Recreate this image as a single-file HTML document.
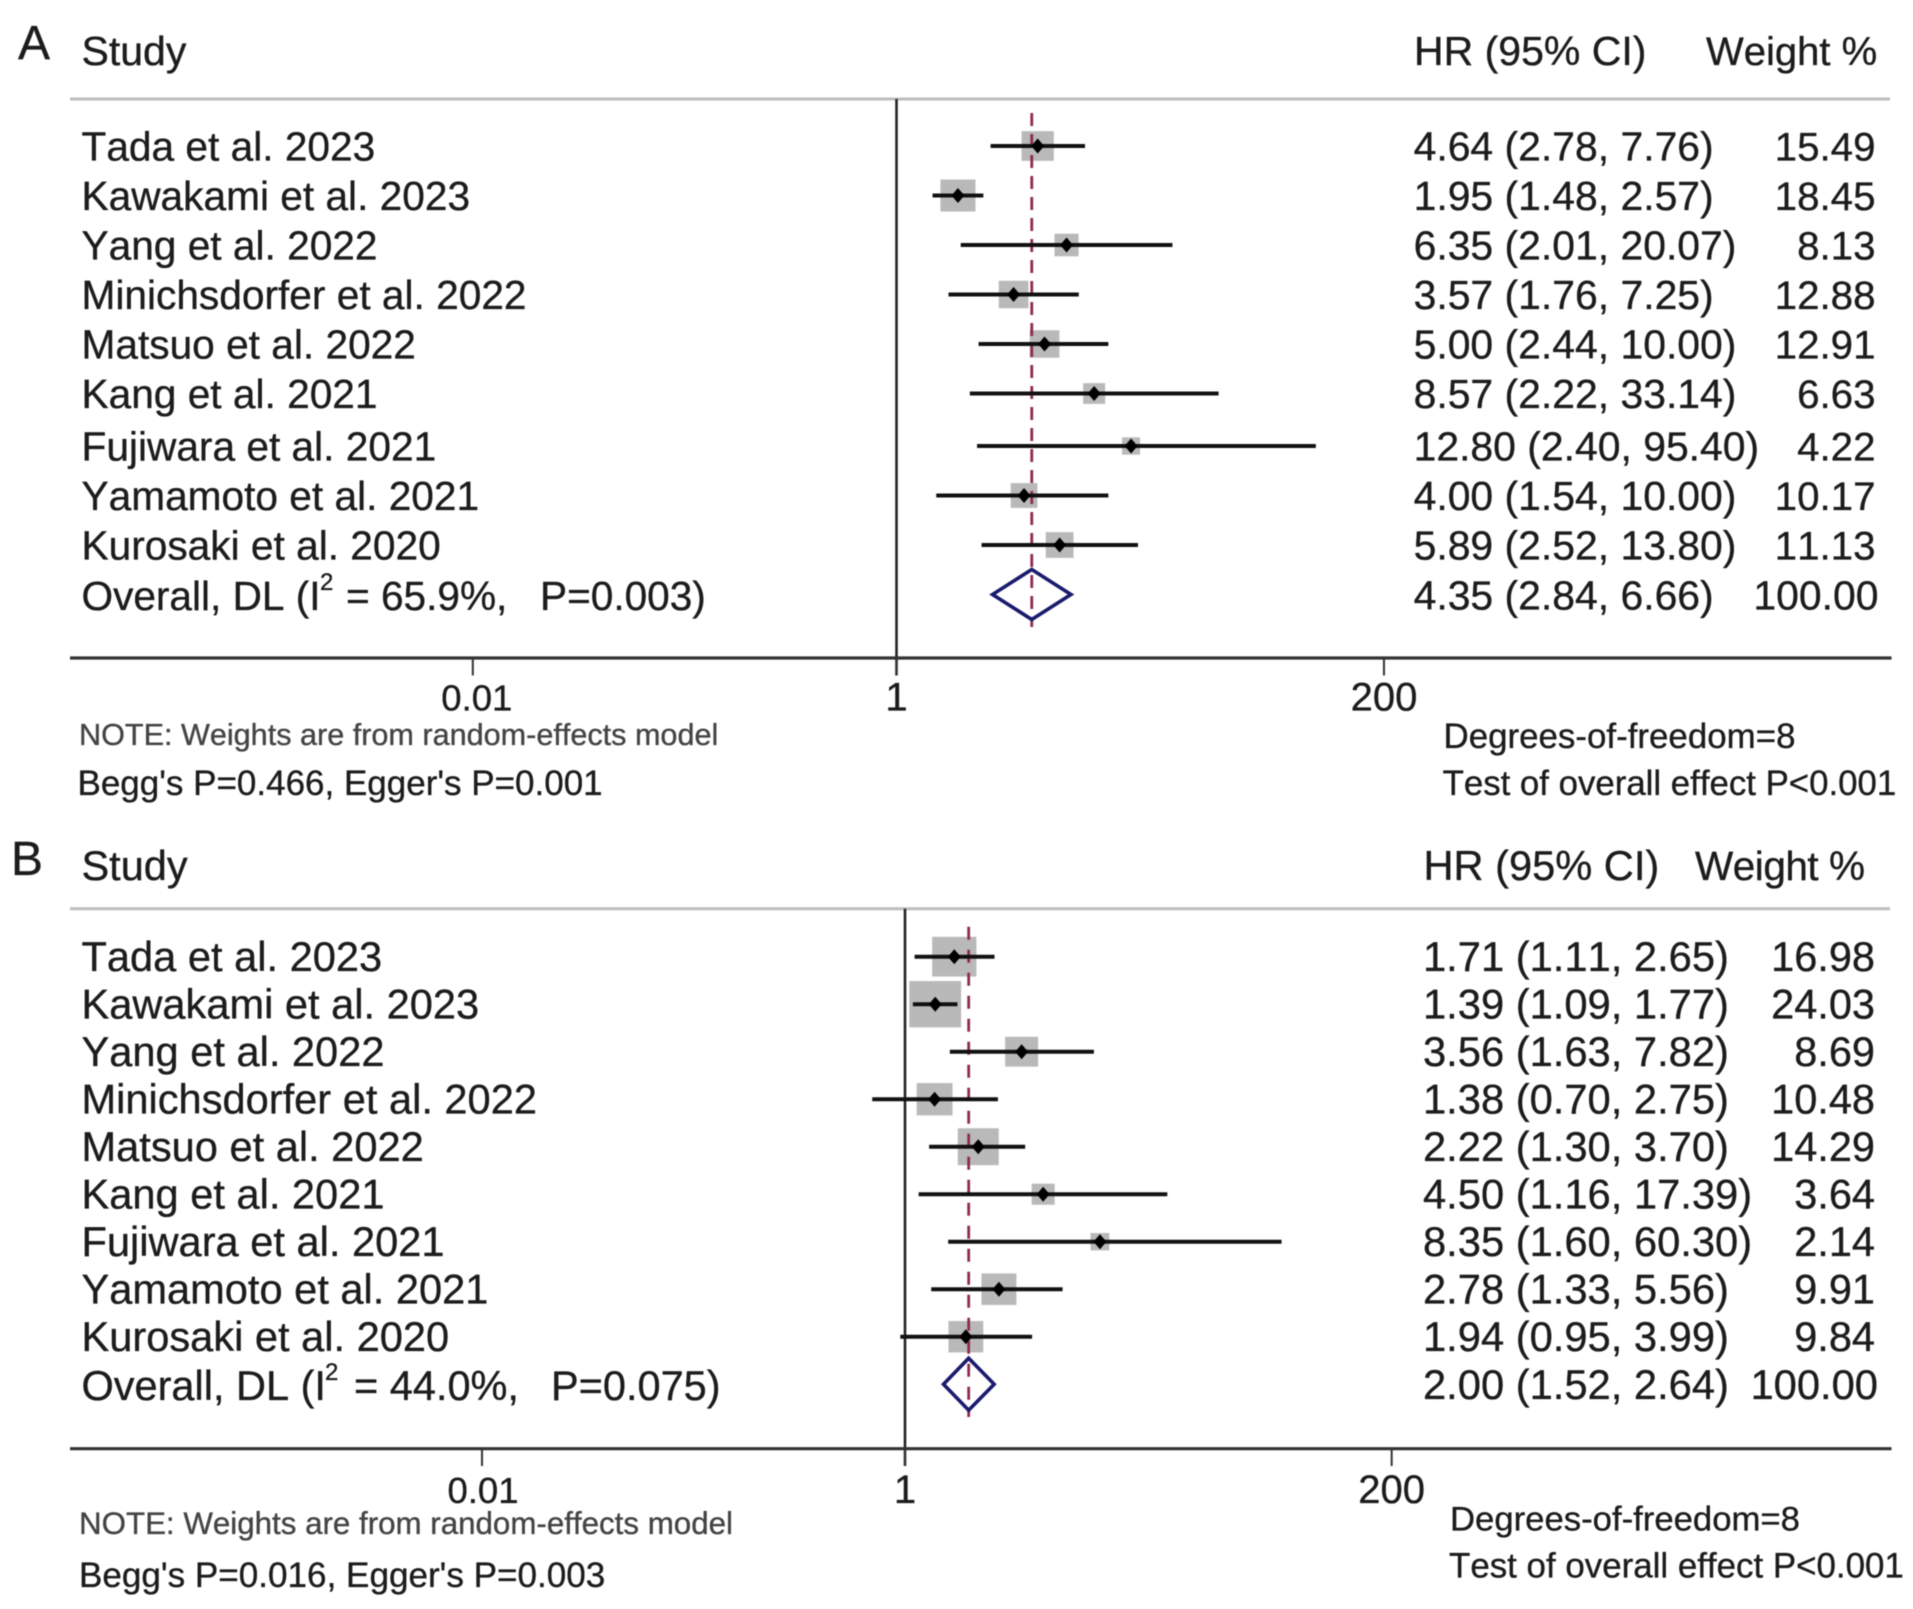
<!DOCTYPE html>
<html lang="en">
<head>
<meta charset="utf-8">
<title>Forest plots</title>
<style>
html,body{margin:0;padding:0;background:#fff;}
body{width:1913px;height:1609px;overflow:hidden;}
svg{display:block;filter:blur(0.6px);}
text{font-family:"Liberation Sans",Arial,sans-serif;fill:#1c1c1c;stroke:#1c1c1c;stroke-width:0.35px;font-kerning:none;}
</style>
</head>
<body>
<svg id="chart" xmlns="http://www.w3.org/2000/svg" width="1913" height="1609" viewBox="0 0 1913 1609">
  <rect x="0" y="0" width="1913" height="1609" fill="#fff"/>

  <g id="panel-a">
    <text x="18" y="59" font-size="48">A</text>
    <text x="81.5" y="65" font-size="41">Study</text>
    <text x="1414" y="65" font-size="41">HR (95% CI)</text>
    <text x="1706" y="65" font-size="40">Weight %</text>
    <text y="610" font-size="40.6"><tspan x="81.5">Overall, DL (I</tspan><tspan x="320" y="590" font-size="24">2</tspan><tspan x="346" y="610">= 65.9%,</tspan><tspan x="540" y="610">P=0.003)</tspan></text>
    <text x="79" y="745" font-size="30.6" style="fill:#444;stroke:#444">NOTE: Weights are from random-effects model</text>
    <text x="77.5" y="795" font-size="35">Begg's P=0.466, Egger's P=0.001</text>
    <text x="1443.5" y="748" font-size="34.9">Degrees-of-freedom=8</text>
    <text x="1442.6" y="795" font-size="34.8">Test of overall effect P&lt;0.001</text>
  </g>

  <g id="panel-b">
    <text x="11" y="875" font-size="48">B</text>
    <text x="81.5" y="880" font-size="41.5">Study</text>
    <text x="1423.5" y="880" font-size="41.6">HR (95% CI)</text>
    <text x="1695" y="880" font-size="40.5" textLength="170" lengthAdjust="spacing">Weight %</text>
    <text y="1400" font-size="41.5"><tspan x="81.5">Overall, DL (I</tspan><tspan x="325" y="1380" font-size="24">2</tspan><tspan x="354" y="1400">= 44.0%,</tspan><tspan x="551" y="1400">P=0.075)</tspan></text>
    <text x="79" y="1534" font-size="31.3" style="fill:#444;stroke:#444">NOTE: Weights are from random-effects model</text>
    <text x="79" y="1587" font-size="35.1">Begg's P=0.016, Egger's P=0.003</text>
    <text x="1450" y="1530.7" font-size="34.7">Degrees-of-freedom=8</text>
    <text x="1449" y="1577.5" font-size="34.9">Test of overall effect P&lt;0.001</text>
  </g>
</svg>

<script>
// ---- Data ----
var studies = ['Tada et al. 2023','Kawakami et al. 2023','Yang et al. 2022','Minichsdorfer et al. 2022','Matsuo et al. 2022','Kang et al. 2021','Fujiwara et al. 2021','Yamamoto et al. 2021','Kurosaki et al. 2020'];
var tickValues = [0.01, 1, 200];
var tickLabels = ['0.01', '1', '200'];

var hrA = [4.64, 1.95, 6.35, 3.57, 5.00, 8.57, 12.80, 4.00, 5.89];
var lowerA = [2.78, 1.48, 2.01, 1.76, 2.44, 2.22, 2.40, 1.54, 2.52];
var upperA = [7.76, 2.57, 20.07, 7.25, 10.00, 33.14, 95.40, 10.00, 13.80];
var weightA = [15.49, 18.45, 8.13, 12.88, 12.91, 6.63, 4.22, 10.17, 11.13];
var overallA = [4.35, 2.84, 6.66, 100.00];

var hrB = [1.71, 1.39, 3.56, 1.38, 2.22, 4.50, 8.35, 2.78, 1.94];
var lowerB = [1.11, 1.09, 1.63, 0.70, 1.30, 1.16, 1.60, 1.33, 0.95];
var upperB = [2.65, 1.77, 7.82, 2.75, 3.70, 17.39, 60.30, 5.56, 3.99];
var weightB = [16.98, 24.03, 8.69, 10.48, 14.29, 3.64, 2.14, 9.91, 9.84];
var overallB = [2.00, 1.52, 2.64, 100.00];

// ---- Drawing ----
var NS = 'http://www.w3.org/2000/svg';

function make(parent, tag, attrs, txt) {
  var el = document.createElementNS(NS, tag);
  for (var k in attrs) { el.setAttribute(k, attrs[k]); }
  if (txt !== undefined) { el.textContent = txt; }
  parent.appendChild(el);
  return el;
}

function fmtCI(h, l, u) {
  return h.toFixed(2) + ' (' + l.toFixed(2) + ', ' + u.toFixed(2) + ')';
}

function drawPanel(group, cfg, hr, lower, upper, weight, overall) {
  function xScale(v) { return cfg.x1 + Math.log10(v) * cfg.decade; }
  function yRow(i) { return cfg.rowTop + i * cfg.rowStep + (i >= 6 ? cfg.rowJump : 0); }
  var el;

  el = make(group, 'line', {x1: 70, x2: 1890, y1: cfg.topRule, y2: cfg.topRule, stroke: '#bdbdbd', 'stroke-width': 3});
  
  

  el = make(group, 'line', {x1: xScale(1), x2: xScale(1), y1: cfg.topRule, y2: cfg.tickEnd, stroke: '#222', 'stroke-width': 2.6});
  
  

  el = make(group, 'line', {x1: 70, x2: 1891.5, y1: cfg.axisY, y2: cfg.axisY, stroke: '#333', 'stroke-width': 3.2});
  
  

  tickValues.forEach(function (v, i) {
    var t = make(group, 'line', {x1: xScale(v), x2: xScale(v), y1: cfg.axisY, y2: cfg.tickEnd, stroke: '#333', 'stroke-width': 2});
    
    
    var small = i === 0;
    var lab = make(group, 'text', {
      x: xScale(v) + (small ? cfg.firstLabelShift : 0),
      y: cfg.tickLabelY,
      'font-size': small ? 36.5 : 40,
      'text-anchor': 'middle'
    }, tickLabels[i]);
    
    
  });

  // study boxes sit underneath the pooled-effect reference line
  studies.forEach(function (name, i) {
    var w = cfg.boxWA * Math.sqrt(weight[i]) + cfg.boxWB;
    var h = cfg.boxHA * Math.sqrt(weight[i]) + cfg.boxHB;
    var box = make(group, 'rect', {x: xScale(hr[i]) - w / 2, y: yRow(i) - h / 2, width: w, height: h, fill: '#b9b9b9'});
    
    
  });

  el = make(group, 'line', {x1: xScale(overall[0]), x2: xScale(overall[0]), y1: cfg.dashTop, y2: cfg.dashBottom, stroke: '#8f2a50', 'stroke-width': 2.8, 'stroke-dasharray': cfg.dash});
  
  

  studies.forEach(function (name, i) {
    var y = yRow(i);
    var cx = xScale(hr[i]);

    var ci = make(group, 'line', {x1: xScale(lower[i]), x2: xScale(upper[i]), y1: y, y2: y, stroke: '#111', 'stroke-width': 4});
    
    

    var pt = make(group, 'polygon', {points: (cx - 6.5) + ',' + y + ' ' + cx + ',' + (y - 7.5) + ' ' + (cx + 6.5) + ',' + y + ' ' + cx + ',' + (y + 7.5), fill: '#000'});
    
    

    var label = make(group, 'text', {x: 81.5, y: y + 14.5, 'font-size': cfg.nameSize}, name);
    
    

    var ciText = make(group, 'text', {x: cfg.ciX, y: y + 14.5, 'font-size': cfg.fontSize}, fmtCI(hr[i], lower[i], upper[i]));
    
    

    var wtText = make(group, 'text', {x: cfg.weightX, y: y + 14.5, 'font-size': cfg.weightSize, 'text-anchor': 'end'}, weight[i].toFixed(2));
    
    
  });

  // pooled estimate
  var oy = yRow(9);
  el = make(group, 'polygon', {
    points: xScale(overall[1]) + ',' + oy + ' ' + xScale(overall[0]) + ',' + (oy - cfg.diamondHalf) + ' ' + xScale(overall[2]) + ',' + oy + ' ' + xScale(overall[0]) + ',' + (oy + cfg.diamondHalf),
    fill: 'none', stroke: '#1a1a6e', 'stroke-width': 3.6
  });
  
  

  el = make(group, 'text', {x: cfg.ciX, y: oy + 15, 'font-size': cfg.fontSize}, fmtCI(overall[0], overall[1], overall[2]));
  
  

  el = make(group, 'text', {x: cfg.weightX + 3, y: oy + 15, 'font-size': cfg.fontSize, 'text-anchor': 'end'}, overall[3].toFixed(2));
  
  
}

drawPanel(document.getElementById('panel-a'), {
  x1: 896.5, decade: 211.85, rowTop: 146, rowStep: 49.5, rowJump: 3,
  topRule: 99, axisY: 658, tickEnd: 675.5, tickLabelY: 710.5, firstLabelShift: 4,
  dashTop: 113, dashBottom: 627, dash: '13 8', diamondHalf: 25,
  boxWA: 7.57, boxWB: 2.5, boxHA: 6.55, boxHB: 3.9,
  nameSize: 40.65, fontSize: 40.9, weightSize: 40.3, ciX: 1413.6, weightX: 1875.5
}, hrA, lowerA, upperA, weightA, overallA);

drawPanel(document.getElementById('panel-b'), {
  x1: 905, decade: 211.5, rowTop: 956.7, rowStep: 47.5, rowJump: 0,
  topRule: 908.7, axisY: 1448.7, tickEnd: 1466, tickLabelY: 1503, firstLabelShift: 1,
  dashTop: 926.7, dashBottom: 1417, dash: '13 10', diamondHalf: 26,
  boxWA: 9.6, boxWB: 4.7, boxHA: 8.43, boxHB: 5,
  nameSize: 41.6, fontSize: 41.7, weightSize: 41.5, ciX: 1423, weightX: 1875
}, hrB, lowerB, upperB, weightB, overallB);
</script>
</body>
</html>
